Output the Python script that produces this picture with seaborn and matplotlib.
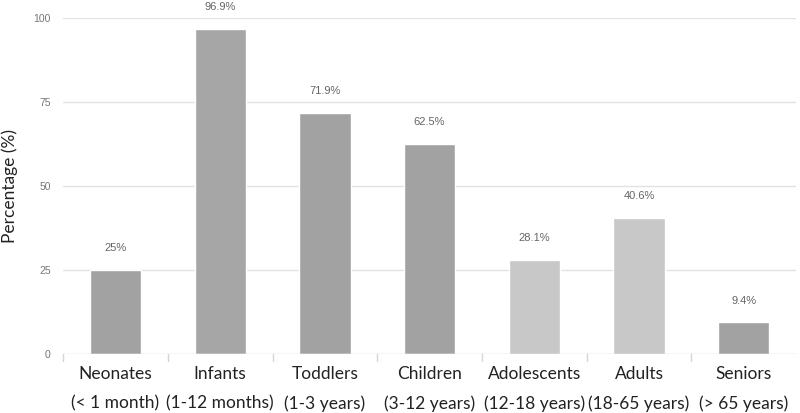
import matplotlib
matplotlib.use('Agg')
import matplotlib.pyplot as plt
import seaborn as sns
import pandas as pd
import numpy as np

# Data
categories = ['Neonates\n(< 1 month)', 'Infants\n(1-12 months)', 'Toddlers\n(1-3 years)',
              'Children\n(3-12 years)', 'Adolescents\n(12-18 years)', 'Adults\n(18-65 years)',
              'Seniors\n(> 65 years)']
values = [25, 96.9, 71.9, 62.5, 28.1, 40.6, 9.4]
value_labels = ['25%', '96.9%', '71.9%', '62.5%', '28.1%', '40.6%', '9.4%']
bar_colors = ['#a2a2a2', '#a6a6a6', '#a2a2a2', '#a2a2a2', '#c8c8c8', '#c8c8c8', '#a2a2a2']
y_ticks = [0, 25, 50, 75, 100]

df = pd.DataFrame({'category': categories, 'value': values})

sns.set_style('white')
plt.rcParams['font.family'] = ['Lato', 'DejaVu Sans']

fig = plt.figure(figsize=(8, 4.13), dpi=100)
ax = fig.add_axes([0.079, 0.143, 0.916, 0.813])

sns.barplot(data=df, x='category', y='value', hue='category', palette=bar_colors,
            legend=False, width=0.49, ax=ax, zorder=3, saturation=1)

ax.set_ylim(0, 100)
ax.set_xlim(-0.5, len(categories) - 0.5)
ax.set_yticks(y_ticks)
ax.set_yticklabels([str(t) for t in y_ticks], fontsize=7.5, color='#777777',
                   family=['Liberation Sans', 'DejaVu Sans'])
ax.set_xticks(range(len(categories)))
ax.set_xticklabels(categories, fontsize=12.5, color='#222222', linespacing=1.95)
ax.tick_params(axis='y', length=0, pad=9)
ax.tick_params(axis='x', length=0, pad=9)

# gridlines
for t in y_ticks[1:]:
    ax.axhline(t, color='#e2e2e2', linewidth=1, zorder=1)
ax.axhline(0, color='#d6d6d6', linewidth=1, zorder=4)
# category separators below the baseline
for b in np.arange(0.5, len(categories) - 1, 1.0):
    ax.plot([b, b], [0, -2], color='#d6d6d6', linewidth=1, clip_on=False)
ax.plot([-0.5, -0.5], [0, -2], color='#d6d6d6', linewidth=1, clip_on=False)

for s in ax.spines.values():
    s.set_visible(False)

ax.set_xlabel('')
ax.set_ylabel('Percentage (%)', fontsize=12.5, color='#222222')
ax.yaxis.set_label_coords(-0.062, 0.5)

for i, (v, lab) in enumerate(zip(values, value_labels)):
    ax.text(i, v + 6.5, lab, ha='center', va='center', fontsize=8, color='#666666',
            family=['Liberation Sans', 'DejaVu Sans'], clip_on=False)

fig.savefig('out.png', dpi=100)
